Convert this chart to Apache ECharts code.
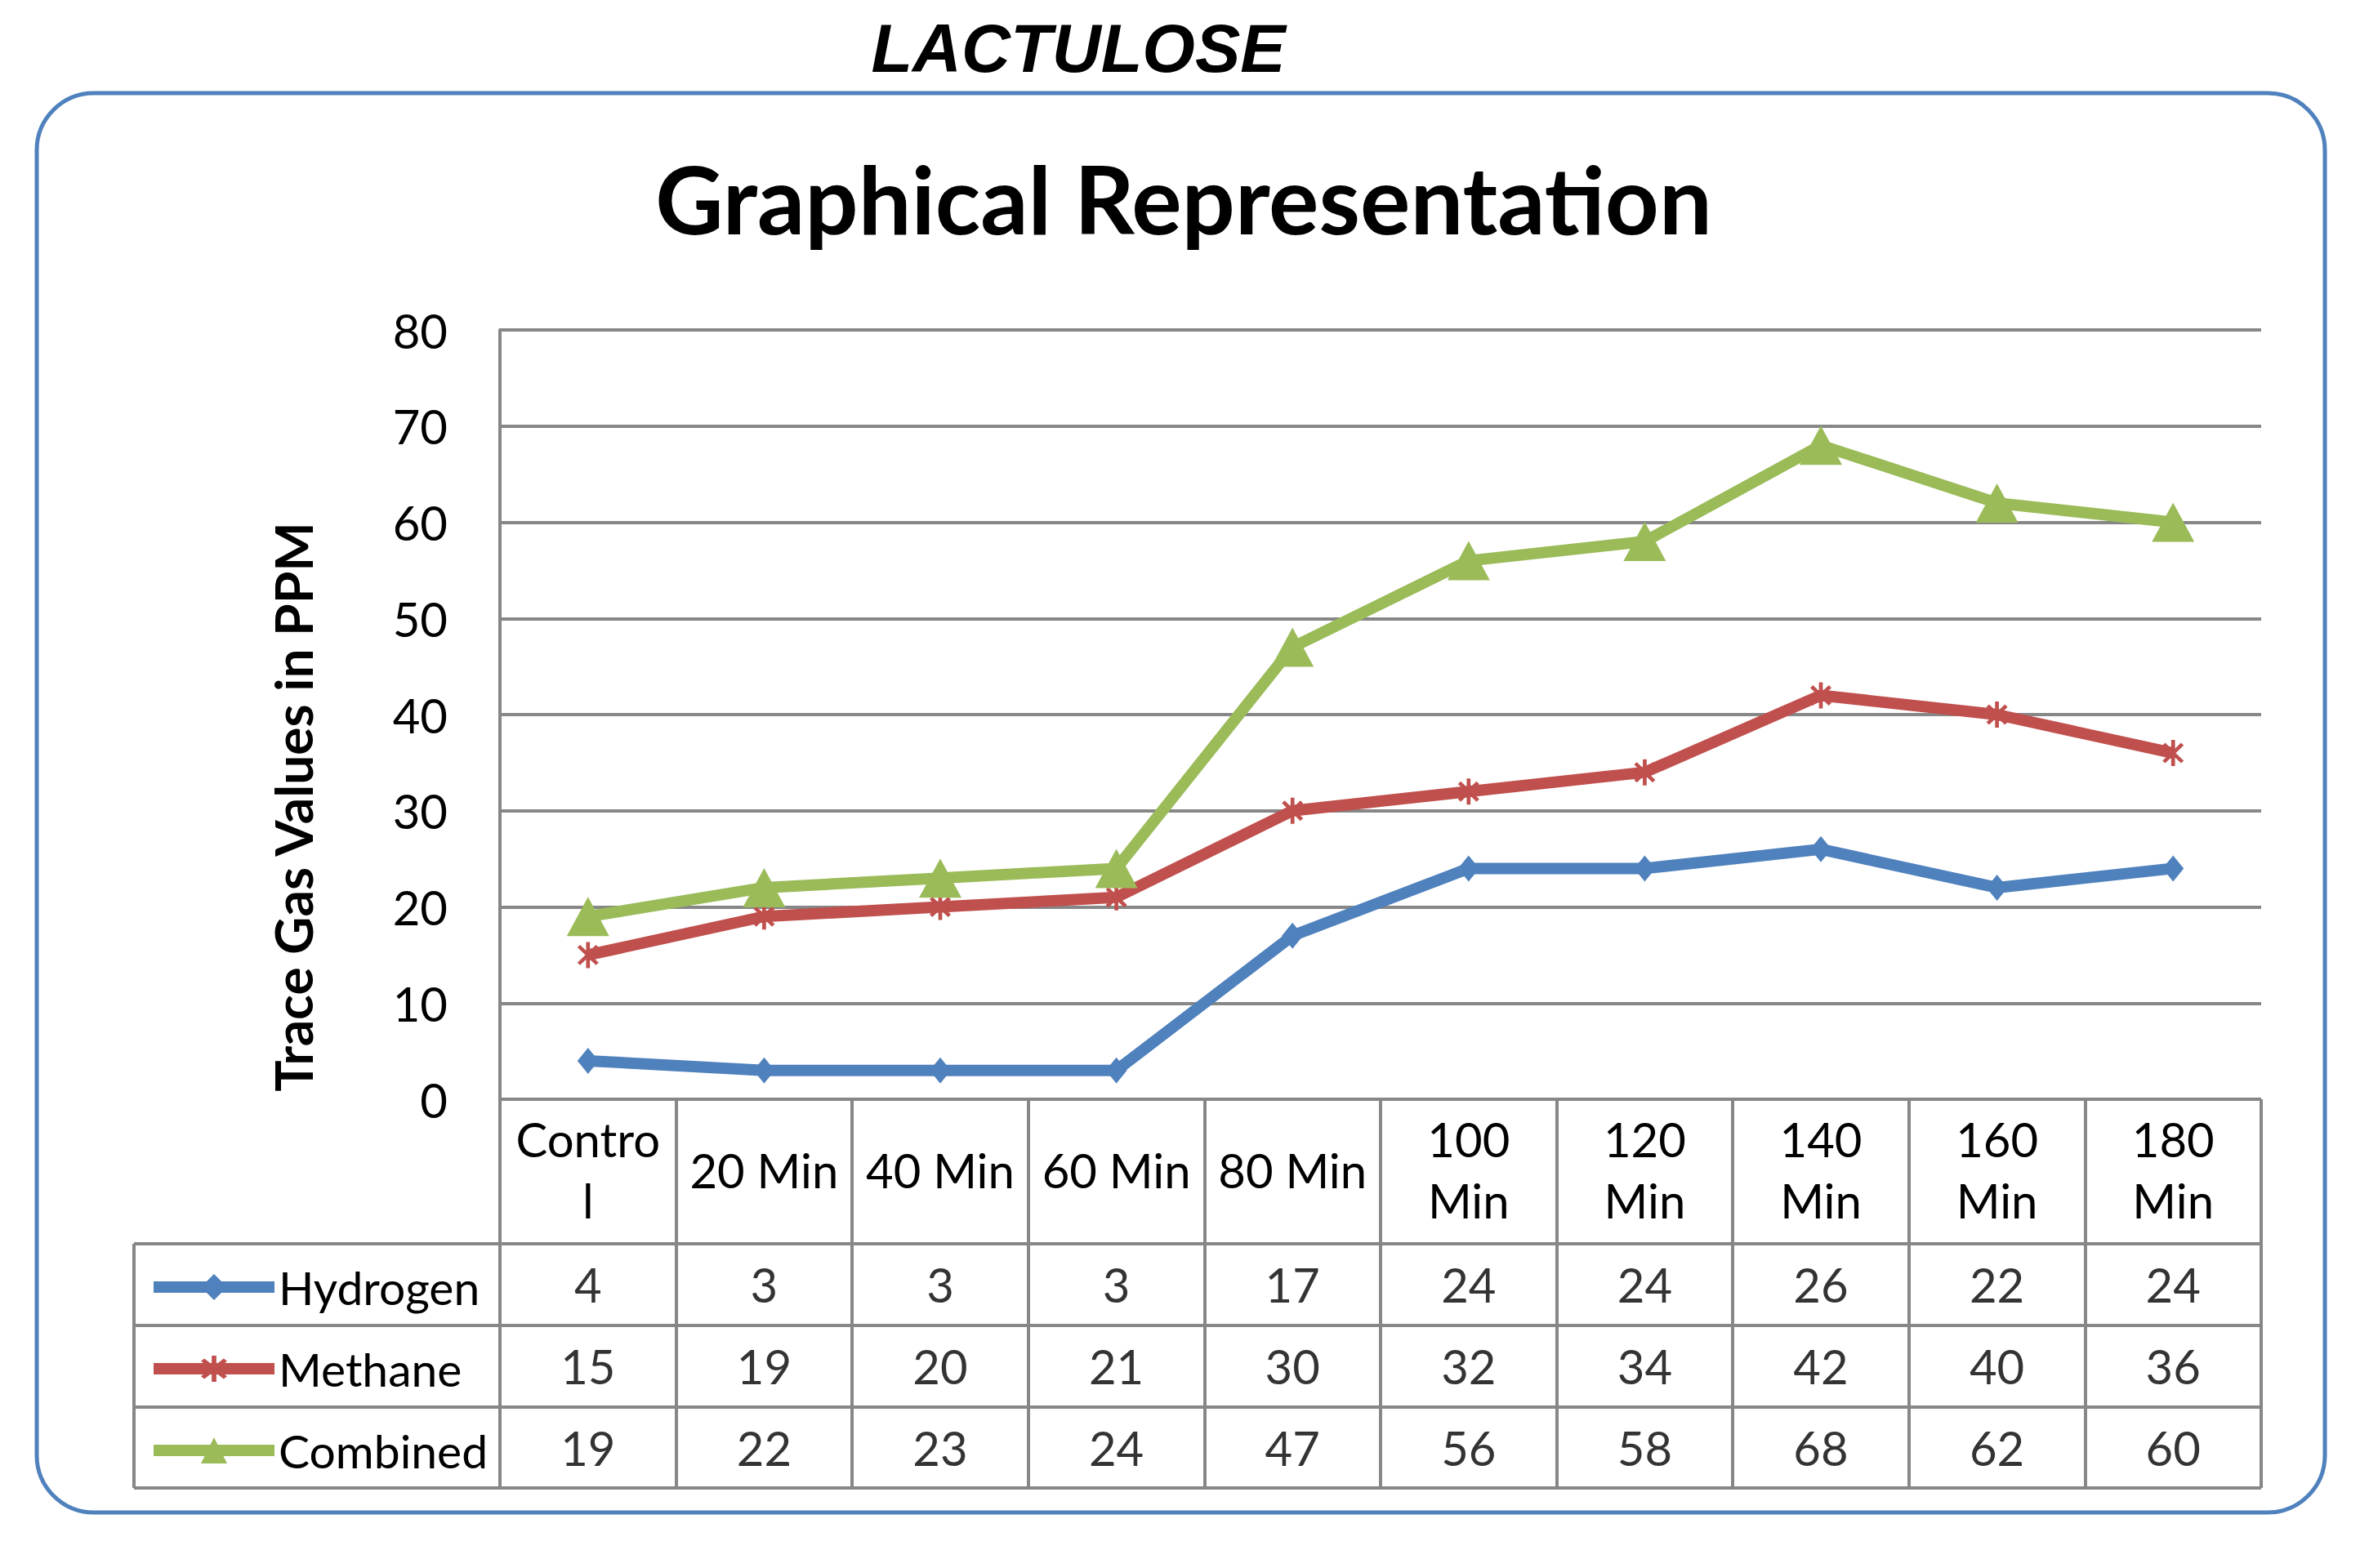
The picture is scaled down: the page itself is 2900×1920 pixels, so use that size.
<!DOCTYPE html>
<html>
<head>
<meta charset="utf-8">
<title>Lactulose</title>
<script src="https://cdn.jsdelivr.net/npm/echarts@6/dist/echarts.min.js"></script>
<style>
	html,body{margin:0;padding:0;background:#fff;}
	#chart{width:2900px;height:1920px;}
</style>
</head>
<body>
<div id="chart"></div>
<script>
// 数据
var categories = ['Contro\nl','20 Min','40 Min','60 Min','80 Min','100\nMin','120\nMin','140\nMin','160\nMin','180\nMin'];
var seriesNames = ['Hydrogen','Methane','Combined'];
var hydrogen = [4,3,3,3,17,24,24,26,22,24];
var methane = [15,19,20,21,30,32,34,42,40,36];
var combined = [19,22,23,24,47,56,58,68,62,60];
var yTicks = {min:0,max:80,interval:10};

var colors = ['#4f81bd','#c0504d','#9bbb59'];
var gridColor = '#878787';
var font = 'Lato';
// 星号标记
var asterisk = 'path://M-1.4,-10L1.4,-10L1.4,10L-1.4,10Z' +
	'M-5.8,-7.8L7.8,5.8L5.8,7.8L-7.8,-5.8Z' +
	'M-7.8,5.8L5.8,-7.8L7.8,-5.8L-5.8,7.8Z';

var values = [hydrogen,methane,combined];
var cells = [];
values.forEach(function(arr,row){
	arr.forEach(function(v,col){
		cells.push([col,row,v]);
	});
});

var splitStyle = {show:true,interval:0,lineStyle:{color:gridColor,width:4}};
var hidden = {show:false};

var chart = echarts.init(document.getElementById('chart'),null,{renderer:'svg'});
chart.setOption({
	animation:false,
	backgroundColor:'#fff',
	graphic:[{
		type:'rect',
		shape:{x:45,y:114,width:2801,height:1738,r:70},
		style:{fill:'none',stroke:'#4f81bd',lineWidth:5}
	},{
		type:'text',
		x:1320,y:59,
		style:{text:'LACTULOSE',fontFamily:'Liberation Sans',fontWeight:'bold',fontStyle:'italic',
			fontSize:83,fill:'#000',align:'center',verticalAlign:'middle'}
	},{
		type:'text',
		x:1449,y:242,
		style:{text:'Graphical Representation',fontFamily:font,fontWeight:'bold',
			fontSize:115,fill:'#000',align:'center',verticalAlign:'middle'}
	},{
		type:'text',
		x:358,y:988,rotation:Math.PI/2,
		style:{text:'Trace Gas Values in PPM',fontFamily:font,fontWeight:'bold',
			fontSize:64,fill:'#000',align:'center',verticalAlign:'middle'}
	}],
	legend:{
		data:seriesNames,
		orient:'vertical',
		left:176,top:1541,
		itemWidth:148,itemHeight:40,itemGap:40,
		lineStyle:{width:14},
		textStyle:{fontFamily:font,fontSize:57,lineHeight:60,color:'#000'},
		selectedMode:false
	},
	grid:[
		{left:612,top:404,width:2156,height:942},   //图表区
		{left:612,top:1346,width:2156,height:177},  //表头
		{left:612,top:1523,width:2156,height:299},  //数据
		{left:164,top:1523,width:448,height:299}    //图例列
	],
	xAxis:[{
		type:'category',gridIndex:0,data:categories,
		axisLine:hidden,axisTick:hidden,
		axisLabel:{interval:0,margin:86,verticalAlign:'middle',lineHeight:75,
			fontFamily:font,fontSize:58,color:'#000'}
	},{
		type:'category',gridIndex:1,data:categories,
		axisLine:hidden,axisTick:hidden,axisLabel:hidden,splitLine:splitStyle
	},{
		type:'category',gridIndex:2,data:categories,
		axisLine:hidden,axisTick:hidden,axisLabel:hidden,splitLine:splitStyle
	},{
		type:'category',gridIndex:3,data:[''],
		axisLine:hidden,axisTick:hidden,axisLabel:hidden,splitLine:splitStyle
	}],
	yAxis:[{
		type:'value',gridIndex:0,
		min:yTicks.min,max:yTicks.max,interval:yTicks.interval,
		axisLine:{show:true,lineStyle:{color:gridColor,width:4}},
		axisTick:hidden,
		axisLabel:{margin:64,fontFamily:font,fontSize:58,color:'#000'},
		splitLine:{show:true,lineStyle:{color:gridColor,width:4}}
	},{
		type:'value',gridIndex:1,show:false
	},{
		type:'category',gridIndex:2,data:seriesNames,inverse:true,
		axisLine:hidden,axisTick:hidden,axisLabel:hidden,splitLine:splitStyle
	},{
		type:'category',gridIndex:3,data:seriesNames,inverse:true,
		axisLine:hidden,axisTick:hidden,axisLabel:hidden,splitLine:splitStyle
	}],
	series:[{
		name:'Hydrogen',type:'line',data:hydrogen,
		xAxisIndex:0,yAxisIndex:0,
		symbol:'diamond',symbolSize:[26,32],
		lineStyle:{color:colors[0],width:14},
		itemStyle:{color:colors[0],borderWidth:0}
	},{
		name:'Methane',type:'line',data:methane,
		xAxisIndex:0,yAxisIndex:0,
		symbol:asterisk,symbolSize:[26,32],
		lineStyle:{color:colors[1],width:14},
		itemStyle:{color:colors[1],borderWidth:0}
	},{
		name:'Combined',type:'line',data:combined,
		xAxisIndex:0,yAxisIndex:0,
		symbol:'triangle',symbolSize:[52,48],
		lineStyle:{color:colors[2],width:14},
		itemStyle:{color:colors[2],borderWidth:0}
	},{
		name:'cells',type:'scatter',data:cells,
		xAxisIndex:2,yAxisIndex:2,
		symbolSize:1,silent:true,
		itemStyle:{color:'transparent'},
		label:{show:true,position:'inside',formatter:function(p){return p.value[2]},
			fontFamily:font,fontSize:58,color:'#000'}
	}]
});
</script>
</body>
</html>
